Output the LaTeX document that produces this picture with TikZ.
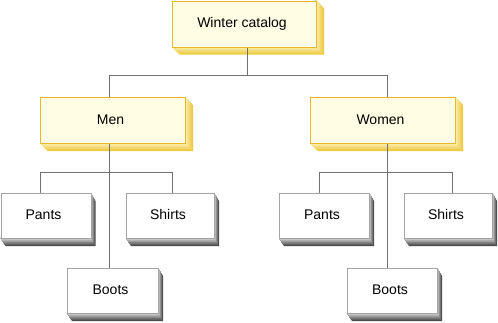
\documentclass[tikz,border=0pt]{standalone}
\usepackage{fontspec}
\setmainfont{Liberation Sans}
\definecolor{yFill}{HTML}{FFFDE4}
\definecolor{yLine}{HTML}{E6BA2A}
\definecolor{yOut}{HTML}{EDC93E}
\definecolor{yIn}{HTML}{FCEFB2}
\definecolor{gFill}{HTML}{FFFFFF}
\definecolor{gLine}{HTML}{A4A4A4}
\definecolor{gOut}{HTML}{4A4A4A}
\definecolor{gIn}{HTML}{D4D4D4}
\definecolor{connCol}{HTML}{707070}
\tikzset{
  boxtext/.style={font=\fontsize{14}{16}\selectfont, inner sep=0pt, text height=10pt, text depth=3pt},
  ybox/.style={draw=yLine, fill=yFill, line width=1pt, inner sep=0pt, anchor=north west},
  gbox/.style={draw=gLine, fill=gFill, line width=1pt, inner sep=0pt, anchor=north west},
  conn/.style={draw=connCol, line width=1pt}
}
\newcommand\mkbox[9]{%
  \foreach \k in {8,7,...,1}{%
    \pgfmathsetmacro\dx{\k*#8/8}%
    \pgfmathsetmacro\dy{\k*#9/8}%
    \pgfmathtruncatemacro\p{(\k-1)*100/7}%
    \fill[fill=#7Out!\p!#7In] ({#2+#4},{#3}) -- ({#2+#4+\dx},{#3+\dy}) -- ({#2+#4+\dx},{#3+#5+\dy}) -- ({#2+\dx},{#3+#5+\dy}) -- ({#2},{#3+#5}) -- cycle;
  }
  \node[#7box, minimum width=#4pt, minimum height=#5pt,
        label={[boxtext, xshift=-2.5pt]center:#6}] (#1) at (#2,#3) {};
}
\begin{document}
\begin{tikzpicture}[x=1pt,y=-1pt]
\useasboundingbox (0,0) rectangle (498,322);
\coordinate (jTop) at (247,75);
\coordinate (jm) at (109,75);
\coordinate (jw) at (387,75);
\coordinate (pl) at (40,172);
\coordinate (sl) at (172,172);
\coordinate (pr) at (319,172);
\coordinate (sr) at (452,172);
% boxes
\mkbox{winter}{172}{0.5}{144}{46}{Winter catalog}{y}{8}{8}
\mkbox{men}{40}{97}{145}{46}{Men}{y}{8}{8}
\mkbox{women}{310}{97}{145}{46}{Women}{y}{8}{8}
\mkbox{pantsL}{0.5}{193}{90}{45}{Pants}{g}{5}{8}
\mkbox{shirtsL}{126}{193}{88}{45}{Shirts}{g}{5}{8}
\mkbox{bootsL}{67}{268}{91}{45}{Boots}{g}{5}{8}
\mkbox{pantsR}{279}{193}{90}{45}{Pants}{g}{5}{8}
\mkbox{shirtsR}{404}{193}{88}{45}{Shirts}{g}{5}{8}
\mkbox{bootsR}{347}{268}{90}{45}{Boots}{g}{5}{8}
% connector lines
\draw[conn] (winter.south -| jTop) -- (jTop);
\draw[conn] (men.north -| jm) -- (jm) -- (jw) -- (women.north -| jw);
\draw[conn] (men.south -| jm) -- (bootsL.north -| jm);
\draw[conn] (pantsL.north -| pl) -- (pl) -- (sl) -- (shirtsL.north -| sl);
\draw[conn] (women.south -| jw) -- (bootsR.north -| jw);
\draw[conn] (pantsR.north -| pr) -- (pr) -- (sr) -- (shirtsR.north -| sr);
\end{tikzpicture}
\end{document}
